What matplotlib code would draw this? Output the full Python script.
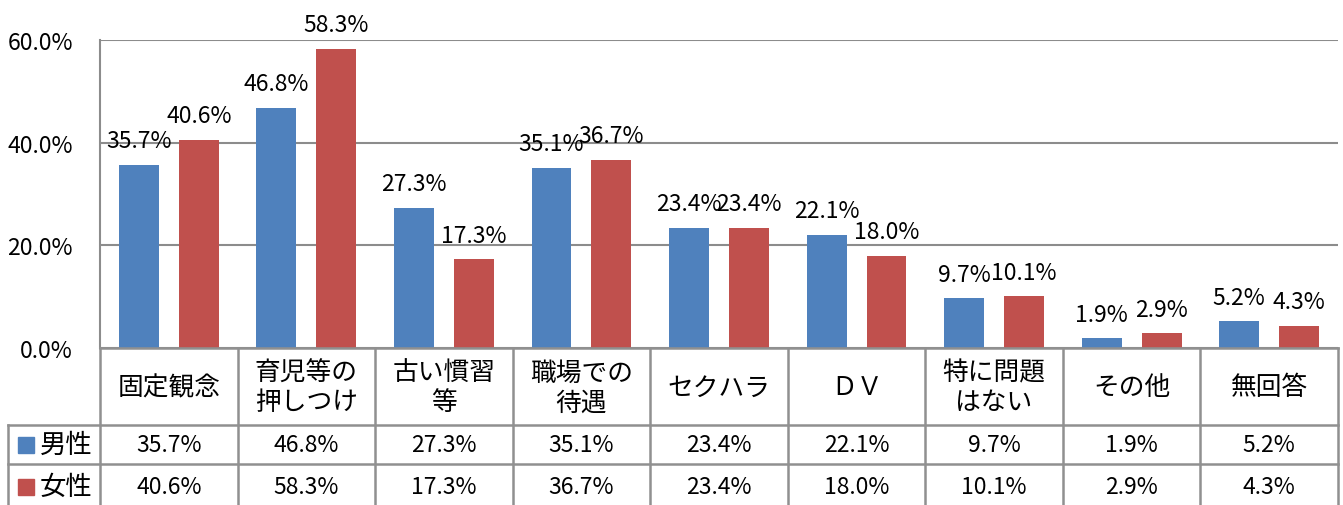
import matplotlib
matplotlib.use("Agg")
import matplotlib.pyplot as plt
import numpy as np

plt.rcParams['font.family'] = ['Noto Sans CJK JP', 'DejaVu Sans']

categories = ['固定観念', '育児等の\n押しつけ', '古い慣習\n等', '職場での\n待遇', 'セクハラ',
              'ＤＶ', '特に問題\nはない', 'その他', '無回答']
series_names = ['男性', '女性']
male = [35.7, 46.8, 27.3, 35.1, 23.4, 22.1, 9.7, 1.9, 5.2]
female = [40.6, 58.3, 17.3, 36.7, 23.4, 18.0, 10.1, 2.9, 4.3]
yticks = [0, 20, 40, 60]

blue = '#4F81BD'
red = '#C0504D'
grid_c = '#8c8c8c'
W, H = 1343, 506

fig = plt.figure(figsize=(W / 100, H / 100), dpi=100)

# pixel geometry of the plot area
left, right, top, bottom = 100, 1338, 41, 349
ax = fig.add_axes([left / W, 1 - bottom / H, (right - left) / W, (bottom - top) / H])

x = np.arange(len(categories))
bw = 0.29
off = 0.218
ax.bar(x - off, male, bw, color=blue, zorder=3)
ax.bar(x + off, female, bw, color=red, zorder=3)
for xi, v in zip(x, male):
    ax.annotate(f'{v:.1f}%', (xi - off, v), xytext=(0, 9), textcoords='offset points',
                ha='center', va='bottom', fontsize=16.5, zorder=4)
for xi, v in zip(x, female):
    ax.annotate(f'{v:.1f}%', (xi + off, v), xytext=(0, 9), textcoords='offset points',
                ha='center', va='bottom', fontsize=16.5, zorder=4)

ax.set_xlim(-0.5, len(categories) - 0.5)
ax.set_ylim(0, 60)
ax.set_yticks(yticks)
ax.set_yticklabels([f'{t:.1f}%' for t in yticks], fontsize=16.5)
ax.set_xticks([])
ax.tick_params(axis='y', length=0, pad=19.5)
ax.yaxis.grid(True, color=grid_c, linewidth=1.5, zorder=0)
for s in ['top', 'right', 'bottom']:
    ax.spines[s].set_visible(False)
ax.spines['left'].set_color(grid_c)
ax.spines['left'].set_linewidth(1.5)

# data table below the chart
tab = fig.add_axes([left / W, 0, (right - left) / W, (H - bottom) / H])
tab.set_xlim(-0.5, len(categories) - 0.5)
tab.set_ylim(H, bottom)
tab.axis('off')
lc = '#909090'
lw = 1.8
px = (len(categories)) / (right - left)  # data units per pixel
x_leg = -0.5 - (left - 8) * px
row1, row2 = 426, 465

for i in range(len(categories) + 1):
    tab.plot([i - 0.5, i - 0.5], [bottom, H], color=lc, lw=lw, clip_on=False)
tab.plot([-0.5, len(categories) - 0.5], [bottom, bottom], color=lc, lw=lw, clip_on=False)
for yy in [row1, row2]:
    tab.plot([x_leg, len(categories) - 0.5], [yy, yy], color=lc, lw=lw, clip_on=False)
tab.plot([x_leg, x_leg], [row1, H], color=lc, lw=lw, clip_on=False)

for i, c in enumerate(categories):
    tab.text(i, (bottom + row1) / 2 + 1, c, ha='center', va='center', fontsize=18.5, linespacing=1.2)
for i, (m, f) in enumerate(zip(male, female)):
    tab.text(i, (row1 + row2) / 2, f'{m:.1f}%', ha='center', va='center', fontsize=16.5)
    tab.text(i, (row2 + H) / 2 + 2, f'{f:.1f}%', ha='center', va='center', fontsize=16.5)

for yy, name, col in [((row1 + row2) / 2, series_names[0], blue), ((row2 + H) / 2 + 2, series_names[1], red)]:
    tab.plot([-0.5 - (left - 26) * px], [yy], marker='s', markersize=12, color=col, clip_on=False)
    tab.text(-0.5 - (left - 40) * px, yy, name, ha='left', va='center', fontsize=19, clip_on=False)

fig.savefig('out.png', dpi=100)
